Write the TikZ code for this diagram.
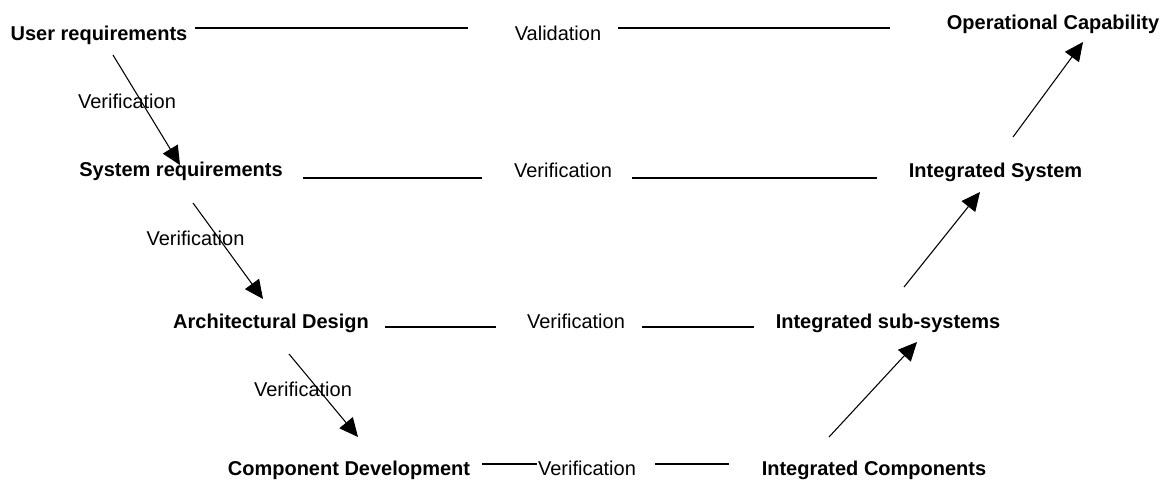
\documentclass[tikz,border=0pt]{standalone}
\usepackage{fontspec}
\setmainfont{Liberation Sans}
\usetikzlibrary{arrows.meta}
\tikzset{
  stage/.style={inner sep=0pt, anchor=base, font=\fontsize{15}{18}\selectfont\bfseries},
  lbl/.style={inner sep=0pt, anchor=base, font=\fontsize{15}{18}\selectfont},
  link/.style={line width=1pt},
  flow/.style={line width=0.8pt, -{Triangle[length=14pt,width=13pt]}}
}
\begin{document}
\begin{tikzpicture}[x=0.75pt,y=-0.75pt]
\useasboundingbox (0,0) rectangle (1169,482);

% stages of the V
\node[stage] (ur) at (99,40)      {User requirements};
\node[stage] (sr) at (181,176)    {System requirements};
\node[stage] (ad) at (271,328)    {Architectural Design};
\node[stage] (cd) at (349,475)    {Component Development};
\node[stage] (ic) at (874,475)    {Integrated Components};
\node[stage] (iss) at (888,328)   {Integrated sub-systems};
\node[stage] (is) at (995.5,177)  {Integrated System};
\node[stage] (oc) at (1053,29.5)  {Operational Capability};

% labels of the horizontal links
\node[lbl] (val) at (558,40)  {Validation};
\node[lbl] (v2)  at (563,177) {Verification};
\node[lbl] (v3)  at (576,328) {Verification};
\node[lbl] (v4)  at (587,475) {Verification};

% labels of the descending arrows
\node[lbl] (d1) at (127,108)   {Verification};
\node[lbl] (d2) at (195.5,245) {Verification};
\node[lbl] (d3) at (303,396)   {Verification};

% end points of the horizontal links
\coordinate (h1a) at (195,28);  \coordinate (h1b) at (468,28);
\coordinate (h1c) at (618,28);  \coordinate (h1d) at (890,28);
\coordinate (h2a) at (303,178); \coordinate (h2b) at (482,178);
\coordinate (h2c) at (632,178); \coordinate (h2d) at (877,178);
\coordinate (h3a) at (385,327); \coordinate (h3b) at (496,327);
\coordinate (h3c) at (642,327); \coordinate (h3d) at (754,327);
\coordinate (h4a) at (482,464); \coordinate (h4b) at (537,464);
\coordinate (h4c) at (655,464); \coordinate (h4d) at (729,464);

\draw[link] (h1a) -- (h1b);  \draw[link] (h1c) -- (h1d);
\draw[link] (h2a) -- (h2b);  \draw[link] (h2c) -- (h2d);
\draw[link] (h3a) -- (h3b);  \draw[link] (h3c) -- (h3d);
\draw[link] (h4a) -- (h4b);  \draw[link] (h4c) -- (h4d);

% end points of the arrows
\coordinate (a1s) at (113,55);  \coordinate (a1e) at (180,165);
\coordinate (a2s) at (193,203); \coordinate (a2e) at (263,299);
\coordinate (a3s) at (289,354); \coordinate (a3e) at (358,437);
\coordinate (a4s) at (829,437); \coordinate (a4e) at (917,342);
\coordinate (a5s) at (904,287); \coordinate (a5e) at (980,192);
\coordinate (a6s) at (1013,137); \coordinate (a6e) at (1083,42);

\draw[flow] (a1s) -- (a1e);
\draw[flow] (a2s) -- (a2e);
\draw[flow] (a3s) -- (a3e);
\draw[flow] (a4s) -- (a4e);
\draw[flow] (a5s) -- (a5e);
\draw[flow] (a6s) -- (a6e);
\end{tikzpicture}
\end{document}
